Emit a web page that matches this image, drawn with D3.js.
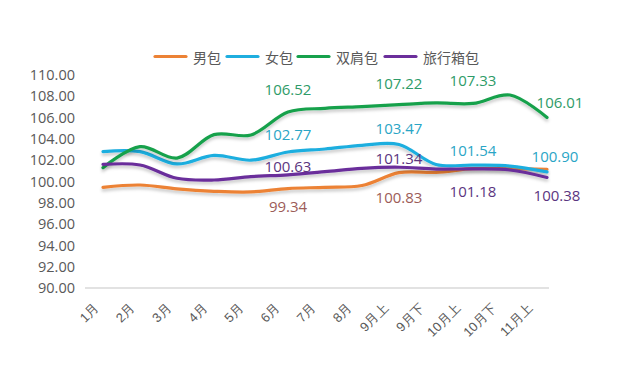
<!DOCTYPE html>
<html><head><meta charset="utf-8">
<script src="https://cdn.jsdelivr.net/npm/d3@7"></script>
<style>
html,body{margin:0;padding:0;background:#fff;}
svg{display:block;font-family:"Open Sans","Noto Sans CJK SC",sans-serif;}
</style></head>
<body>
<svg id="chart" width="638" height="369"></svg>
<script>
const categories = ["1月","2月","3月","4月","5月","6月","7月","8月","9月上","9月下","10月上","10月下","11月上"];
const seriesNames = ["男包","女包","双肩包","旅行箱包"];
const menBag    = [99.45, 99.67, 99.30, 99.08, 99.02, 99.34, 99.45, 99.62, 100.83, 100.86, 101.20, 101.20, 101.15];
const womenBag  = [102.80, 102.80, 101.65, 102.45, 102.00, 102.77, 103.05, 103.40, 103.47, 101.60, 101.54, 101.45, 100.90];
const backpack  = [101.30, 103.27, 102.20, 104.40, 104.37, 106.52, 106.87, 107.03, 107.22, 107.38, 107.33, 108.12, 106.01];
const luggage   = [101.60, 101.55, 100.30, 100.14, 100.45, 100.63, 100.92, 101.24, 101.34, 101.17, 101.18, 101.08, 100.38];
const yTicks = [90,92,94,96,98,100,102,104,106,108,110];
// labelled points: [series index, category index]
const labelled = [[0,5],[0,8],[1,5],[1,8],[1,10],[1,12],[2,5],[2,8],[2,10],[2,12],[3,5],[3,8],[3,10],[3,12]];
// label placement (dx, dy from point) - layout only
const labelPlacement = [[0,17],[0,24],[0,-18],[0,-17],[0,-15],[8,-16],[0,-23],[0,-22],[0,-23],[13,-15],[0,-9],[0,-9],[0,22],[10,18]];

const seriesValues = [menBag, womenBag, backpack, luggage];
const lineColors = ["#EC8235","#1FAEDF","#17A14C","#6B2F9B"];
const labelColors = ["#9C5C58","#2AA5C6","#2E9B68","#5B3580"];

const svg = d3.select("#chart");
const defs = svg.append("defs");
const f = defs.append("filter").attr("id","shadow").attr("x","-10%").attr("y","-50%").attr("width","120%").attr("height","200%");
f.append("feDropShadow").attr("dx",0).attr("dy",2.5).attr("stdDeviation",1.8).attr("flood-color","#000").attr("flood-opacity",0.22);

const x = d3.scalePoint().domain(categories).range([103, 547]);
const xAxisPos = d3.scalePoint().domain(categories).range([99, 533]);
const y = d3.scaleLinear().domain([90,110]).range([288, 75]);

// baseline
svg.append("line").attr("x1",85).attr("x2",549).attr("y1",y(90)).attr("y2",y(90))
  .attr("stroke","#d9d9d9").attr("stroke-width",1.5);

// y axis labels
const yAxis = d3.axisLeft(y).tickValues(yTicks).tickFormat(d3.format(".2f")).tickSize(0).tickPadding(0);
const yg = svg.append("g").attr("transform","translate(75,0)").call(yAxis);
yg.select(".domain").remove();
yg.selectAll("text").attr("fill","#595959").attr("font-size","14.5px").attr("font-family","'Open Sans',sans-serif");

// x axis labels
const xAxis = d3.axisBottom(xAxisPos).tickSize(0).tickPadding(0);
const xg = svg.append("g").attr("transform","translate(0,309)").call(xAxis);
xg.select(".domain").remove();
xg.selectAll("text").attr("fill","#595959").attr("font-size","13px")
  .attr("text-anchor","end").attr("dy","0").attr("y",0).attr("x",0)
  .attr("transform","rotate(-45)");

// lines
const line = d3.line().x((d,i)=>x(categories[i])).y(d=>y(d)).curve(d3.curveCatmullRom.alpha(0.5));
const order = [0,1,2,3];
order.forEach(s=>{
  svg.append("path").datum(seriesValues[s]).attr("d",line)
    .attr("fill","none").attr("stroke",lineColors[s]).attr("stroke-width",3.2)
    .attr("stroke-linecap","round").attr("stroke-linejoin","round")
    .attr("filter","url(#shadow)");
});

// data labels
labelled.forEach(([s,c],k)=>{
  const v = seriesValues[s][c];
  const [dx,dy] = labelPlacement[k];
  svg.append("text").attr("x",x(categories[c])+dx).attr("y",y(v)+dy)
    .attr("text-anchor","middle").attr("dominant-baseline","central")
    .attr("fill",labelColors[s]).attr("font-size","15px")
    .text(d3.format(".2f")(v));
});

// legend
const legendX = [155,227,298,385];
const lg = svg.append("g");
seriesNames.forEach((n,i)=>{
  const g = lg.append("g").attr("transform",`translate(${legendX[i]},56.5)`);
  g.append("line").attr("x1",0).attr("x2",31).attr("y1",0).attr("y2",0)
    .attr("stroke",lineColors[i]).attr("stroke-width",3.2).attr("stroke-linecap","round");
  g.append("text").attr("x",38).attr("y",0).attr("dominant-baseline","central")
    .attr("font-size","14px").attr("fill","#595959").attr("font-family","'Noto Sans CJK SC',sans-serif").text(n);
});
</script>
</body></html>
